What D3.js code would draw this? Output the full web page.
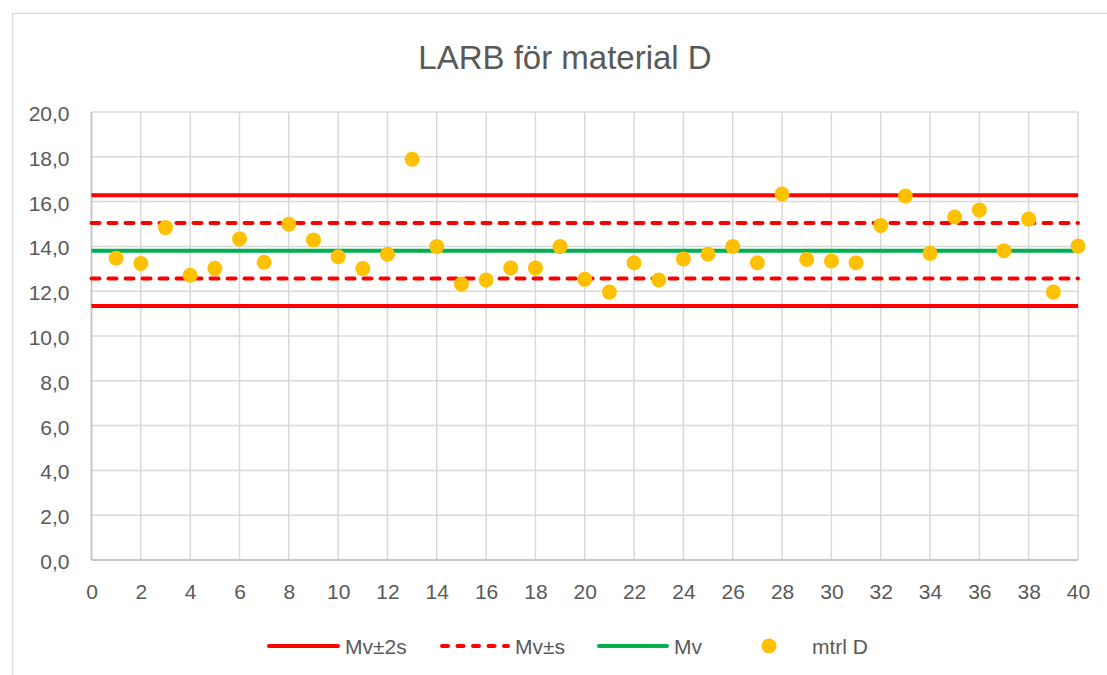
<!DOCTYPE html>
<html><head><meta charset="utf-8">
<script src="https://cdn.jsdelivr.net/npm/d3@7"></script>
<style>body{margin:0;background:#fff}svg{display:block;font-family:"Liberation Sans",Arial,sans-serif}</style>
</head><body><svg id="c" width="1107" height="675"></svg>
<script>
const title = "LARB för material D";
const samples = [1,2,3,4,5,6,7,8,9,10,11,12,13,14,15,16,17,18,19,20,21,22,23,24,25,26,27,28,29,30,31,32,33,34,35,36,37,38,39,40];
const mtrlD = [13.47,13.24,14.84,12.71,13.02,14.33,13.29,14.99,14.29,13.54,13.01,13.65,17.89,13.99,12.32,12.50,13.04,13.04,13.99,12.53,11.96,13.27,12.50,13.44,13.65,13.99,13.27,16.34,13.42,13.35,13.27,14.93,16.25,13.69,15.31,15.63,13.81,15.22,11.96,14.02];
const lineX = [0, 40];
const mvPlus2s = [16.28, 16.28];
const mvMinus2s = [11.34, 11.34];
const mvPlusS = [15.04, 15.04];
const mvMinusS = [12.57, 12.57];
const mv = [13.81, 13.81];
const xTicks = [0,2,4,6,8,10,12,14,16,18,20,22,24,26,28,30,32,34,36,38,40];
const yTicks = [0,2,4,6,8,10,12,14,16,18,20];
const legendLabels = ["Mv±2s","Mv±s","Mv","mtrl D"];

const svg = d3.select("#c");
const txt = "#595959", grid = "#d9d9d9";
const red = "#FF0000", green = "#00B050", gold = "#FFC000";

svg.append("rect").attr("x",12.5).attr("y",13.5).attr("width",1200).attr("height",800)
  .attr("fill","#fff").attr("stroke",grid).attr("stroke-width",1.3);

const x = d3.scaleLinear().domain([0,40]).range([91.5,1078]);
const y = d3.scaleLinear().domain([0,20]).range([560,112]);

svg.append("text").attr("x",565).attr("y",69).attr("text-anchor","middle")
  .attr("font-size",33).attr("fill",txt).text(title);

// grid
const g = svg.append("g");
g.selectAll("line.h").data(yTicks).join("line").attr("class","h")
  .attr("x1",x(0)).attr("x2",x(40)).attr("y1",d=>y(d)).attr("y2",d=>y(d))
  .attr("stroke",grid).attr("stroke-width",1.5);
g.selectAll("line.v").data(xTicks).join("line").attr("class","v")
  .attr("y1",y(0)).attr("y2",y(20)).attr("x1",d=>x(d)).attr("x2",d=>x(d))
  .attr("stroke",grid).attr("stroke-width",1.5);
g.append("line").attr("x1",x(0)).attr("x2",x(0)).attr("y1",y(0)).attr("y2",y(20)).attr("stroke","#bfbfbf").attr("stroke-width",1.5);
g.append("line").attr("x1",x(0)).attr("x2",x(40)).attr("y1",y(0)).attr("y2",y(0)).attr("stroke","#bfbfbf").attr("stroke-width",1.5);

// axes via d3
const fmt = d => d3.format(".1f")(d).replace(".", ",");
const yAxis = svg.append("g").attr("transform",`translate(${x(0)-22},0)`)
  .call(d3.axisLeft(y).tickValues(yTicks).tickFormat(fmt).tickSize(0).tickPadding(0));
yAxis.select(".domain").remove();
yAxis.selectAll("text").attr("font-size",21).attr("fill",txt).attr("font-family","Liberation Sans, Arial, sans-serif").attr("dy","0.4em");
const xAxis = svg.append("g").attr("transform",`translate(0,584)`)
  .call(d3.axisBottom(x).tickValues(xTicks).tickFormat(d3.format("d")).tickSize(0).tickPadding(0));
xAxis.select(".domain").remove();
xAxis.selectAll("text").attr("font-size",21).attr("fill",txt).attr("font-family","Liberation Sans, Arial, sans-serif");

// lines
const line = d3.line().x(d=>x(d[0])).y(d=>y(d[1]));
function hl(vals, color, dash){
  const p = svg.append("path").datum(lineX.map((v,i)=>[v, vals[i]])).attr("d",line)
    .attr("fill","none").attr("stroke",color).attr("stroke-width",4);
  if(dash) p.attr("stroke-dasharray","8,9").attr("stroke-linecap","round");
}
hl(mvPlus2s, red, false);
hl(mvMinus2s, red, false);
hl(mvPlusS, red, true);
hl(mvMinusS, red, true);
hl(mv, green, false);

svg.append("g").selectAll("circle").data(samples).join("circle")
  .attr("cx",(d)=>x(d)).attr("cy",(d,i)=>y(mtrlD[i])).attr("r",7.5).attr("fill",gold);

// legend
const ly = 646;
const leg = svg.append("g");
const items = [
  {x1:269,x2:338,tx:345,type:"solid",c:red},
  {x1:442,x2:508,tx:515,type:"dash",c:red},
  {x1:599,x2:667,tx:674,type:"solid",c:green},
  {cx:769,tx:812,type:"dot",c:gold}
];
items.forEach((it,i)=>{
  if(it.type==="dot"){
    leg.append("circle").attr("cx",it.cx).attr("cy",ly).attr("r",7.5).attr("fill",it.c);
  } else {
    const l = leg.append("line").attr("x1",it.x1).attr("x2",it.x2).attr("y1",ly).attr("y2",ly)
      .attr("stroke",it.c).attr("stroke-width",4).attr("stroke-linecap","round");
    if(it.type==="dash") l.attr("stroke-dasharray","6,9.5");
  }
  leg.append("text").attr("x",it.tx).attr("y",ly+7.5).attr("font-size",21).attr("fill",txt).text(legendLabels[i]);
});
</script></body></html>
